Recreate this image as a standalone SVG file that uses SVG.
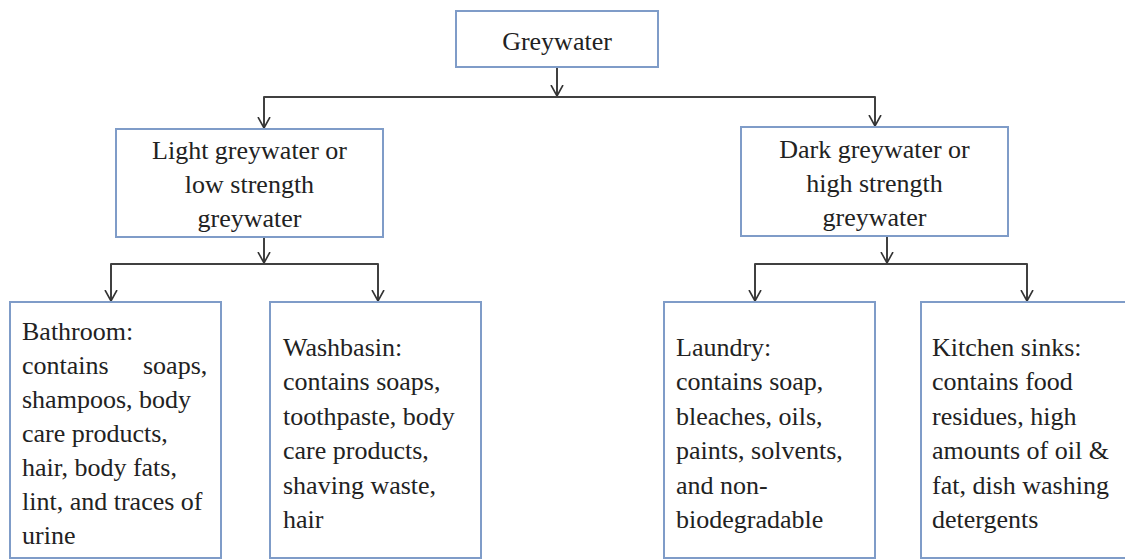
<svg xmlns="http://www.w3.org/2000/svg" width="1125" height="559" viewBox="0 0 1125 559">
<style>
.box{fill:#ffffff;stroke:#7f9cc8;stroke-width:2}
.t{font-family:"Liberation Serif","Times New Roman",serif;font-size:26px;fill:#222222}
.c{text-anchor:middle}
.conn{fill:none;stroke:#404040;stroke-width:2;stroke-linejoin:round}
</style>
<defs>
<marker id="ah" viewBox="0 0 12 14" refX="11" refY="7" markerWidth="12" markerHeight="14" orient="auto" markerUnits="userSpaceOnUse">
<path d="M0,1 L11,7 L0,13" fill="none" stroke="#333333" stroke-width="1.6"/>
</marker>
</defs>
<rect width="1125" height="559" fill="#ffffff"/>
<g id="connectors">
<path class="conn" d="M557,67 V96" marker-end="url(#ah)"/>
<path class="conn" d="M557,97 H264 V128" marker-end="url(#ah)"/>
<path class="conn" d="M557,97 H875 V126" marker-end="url(#ah)"/>
<path class="conn" d="M264,237 V263" marker-end="url(#ah)"/>
<path class="conn" d="M264,264 H111 V301" marker-end="url(#ah)"/>
<path class="conn" d="M264,264 H378 V301" marker-end="url(#ah)"/>
<path class="conn" d="M887,236 V263" marker-end="url(#ah)"/>
<path class="conn" d="M887,264 H755 V301" marker-end="url(#ah)"/>
<path class="conn" d="M887,264 H1027 V301" marker-end="url(#ah)"/>
</g>
<g id="greywater">
<rect class="box" x="456" y="11" width="202" height="56"/>
<text class="t c" x="557" y="50">Greywater</text>
</g>
<g id="light">
<rect class="box" x="116" y="129" width="267" height="108"/>
<text class="t c"><tspan x="249.5" y="159">Light greywater or</tspan><tspan x="249.5" y="193">low strength</tspan><tspan x="249.5" y="227">greywater</tspan></text>
</g>
<g id="dark">
<rect class="box" x="741" y="127" width="267" height="109"/>
<text class="t c"><tspan x="874.5" y="158">Dark greywater or</tspan><tspan x="874.5" y="192">high strength</tspan><tspan x="874.5" y="226">greywater</tspan></text>
</g>
<g id="bathroom">
<rect class="box" x="10" y="302" width="211" height="256"/>
<text class="t"><tspan x="22" y="340">Bathroom:</tspan><tspan x="22" y="374">contains</tspan><tspan x="143" y="374">soaps,</tspan><tspan x="22" y="408">shampoos, body</tspan><tspan x="22" y="442">care products,</tspan><tspan x="22" y="476">hair, body fats,</tspan><tspan x="22" y="510">lint, and traces of</tspan><tspan x="22" y="544">urine</tspan></text>
</g>
<g id="washbasin">
<rect class="box" x="270" y="302" width="211" height="256"/>
<text class="t"><tspan x="283" y="356">Washbasin:</tspan><tspan x="283" y="390">contains soaps,</tspan><tspan x="283" y="425">toothpaste, body</tspan><tspan x="283" y="459">care products,</tspan><tspan x="283" y="494">shaving waste,</tspan><tspan x="283" y="528">hair</tspan></text>
</g>
<g id="laundry">
<rect class="box" x="664" y="302" width="211" height="256"/>
<text class="t"><tspan x="676" y="356">Laundry:</tspan><tspan x="676" y="390">contains soap,</tspan><tspan x="676" y="425">bleaches, oils,</tspan><tspan x="676" y="459">paints, solvents,</tspan><tspan x="676" y="494">and non-</tspan><tspan x="676" y="528">biodegradable</tspan></text>
</g>
<g id="kitchen">
<rect class="box" x="921" y="302" width="212" height="256"/>
<text class="t"><tspan x="932" y="356">Kitchen sinks:</tspan><tspan x="932" y="390">contains food</tspan><tspan x="932" y="425">residues, high</tspan><tspan x="932" y="459">amounts of oil &amp;</tspan><tspan x="932" y="494">fat, dish washing</tspan><tspan x="932" y="528">detergents</tspan></text>
</g>
</svg>
